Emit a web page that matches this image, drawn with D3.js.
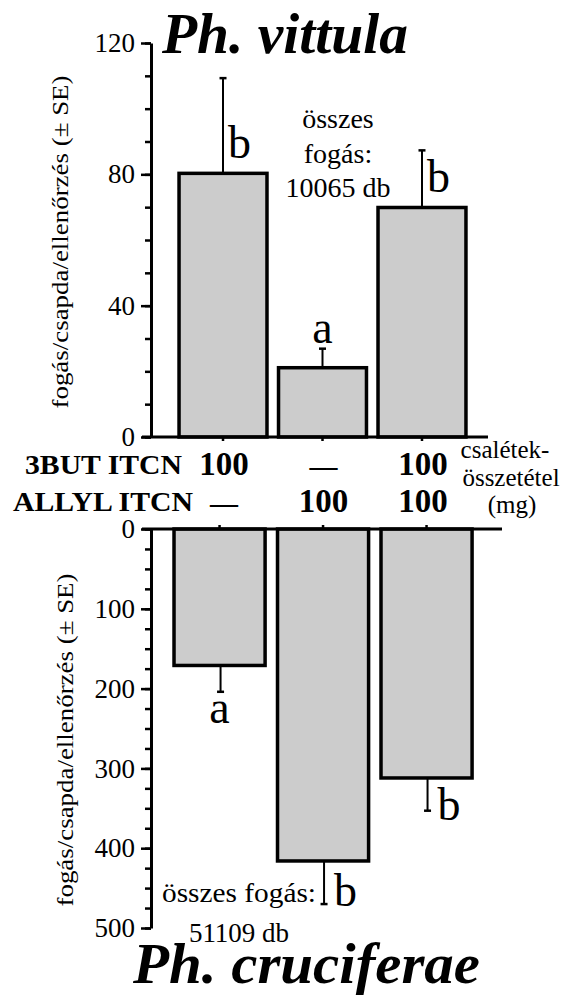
<!DOCTYPE html>
<html>
<head>
<meta charset="utf-8">
<script src="https://cdn.jsdelivr.net/npm/d3@7"></script>
</head>
<body style="margin:0">
<svg width="563" height="1001"></svg>
<script>
// treatments (bait composition, mg)
var treatments = ["3BUT", "ALLYL", "3BUT+ALLYL"];
var row3but = ["100", "—", "100"];
var rowAllyl = ["—", "100", "100"];

// Ph. vittula catches per trap per check
var vittulaMean = [80.3, 21.1, 69.9];
var vittulaSE = [29.0, 5.8, 17.4];
var vittulaLetters = ["b", "a", "b"];

// Ph. cruciferae catches per trap per check
var cruciMean = [171, 416, 312];
var cruciSE = [33, 54, 41];
var cruciLetters = ["a", "b", "b"];

var vittulaTicks = [0, 40, 80, 120];
var cruciTicks = [0, 100, 200, 300, 400, 500];

var FAMILY = "'Liberation Serif', Tinos, 'Times New Roman', Times, 'DejaVu Serif'";

var svg = d3.select("svg").style("font-family", FAMILY);
var axisX = 151;

// Times-like text, set as inline style
function font(sel, size, bold, italic) {
  sel.style("font-family", FAMILY)
     .style("font-size", size + "px");
  if (bold) sel.style("font-weight", "bold");
  if (italic) sel.style("font-style", "italic");
  return sel;
}

// ---------- top panel: Ph. vittula ----------
var xTop = d3.scaleBand().domain(treatments).range([167.5, 477.5]).padding(0.116);
var yTop = d3.scaleLinear().domain([0, 120]).range([437, 43]);

var gTop = svg.append("g");

// minor ticks
gTop.append("g")
    .attr("transform", "translate(" + axisX + ",0)")
    .call(d3.axisLeft(yTop).tickValues(d3.range(0, 121, 10)).tickSize(6).tickSizeOuter(0).tickFormat(""))
    .call(function(g) { g.select(".domain").remove(); })
    .selectAll("line").attr("stroke-width", 2.5);

gTop.append("g")
    .attr("transform", "translate(" + axisX + ",0)")
    .call(d3.axisLeft(yTop).tickValues(vittulaTicks).tickSize(10).tickSizeOuter(0).tickPadding(6))
    .call(function(g) {
      g.attr("font-family", null).attr("font-size", null);
      g.select(".domain").attr("stroke-width", 3);
      g.selectAll("line").attr("stroke-width", 2.5);
      g.selectAll("text").attr("fill", "#000").call(font, 27);
    });

gTop.selectAll("rect.bar")
  .data(vittulaMean)
  .enter().append("rect")
    .attr("class", "bar")
    .attr("x", function(d, i) { return xTop(treatments[i]); })
    .attr("y", function(d) { return yTop(d); })
    .attr("width", xTop.bandwidth())
    .attr("height", function(d) { return yTop(0) - yTop(d); })
    .attr("fill", "#cccccc")
    .attr("stroke", "#000")
    .attr("stroke-width", 3.5);

// error bars (upwards)
gTop.selectAll("line.err")
  .data(vittulaMean)
  .enter().append("line")
    .attr("class", "err")
    .attr("x1", function(d, i) { return xTop(treatments[i]) + xTop.bandwidth() / 2; })
    .attr("x2", function(d, i) { return xTop(treatments[i]) + xTop.bandwidth() / 2; })
    .attr("y1", function(d) { return yTop(d); })
    .attr("y2", function(d, i) { return yTop(d + vittulaSE[i]); })
    .attr("stroke", "#000").attr("stroke-width", 2);

gTop.selectAll("line.cap")
  .data(vittulaMean)
  .enter().append("line")
    .attr("class", "cap")
    .attr("x1", function(d, i) { return xTop(treatments[i]) + xTop.bandwidth() / 2 - 3.5; })
    .attr("x2", function(d, i) { return xTop(treatments[i]) + xTop.bandwidth() / 2 + 3.5; })
    .attr("y1", function(d, i) { return yTop(d + vittulaSE[i]); })
    .attr("y2", function(d, i) { return yTop(d + vittulaSE[i]); })
    .attr("stroke", "#000").attr("stroke-width", 2.5);

// x axis line with small ticks under the bars
gTop.append("line")
    .attr("x1", 142).attr("x2", 488)
    .attr("y1", yTop(0)).attr("y2", yTop(0))
    .attr("stroke", "#000").attr("stroke-width", 3);
gTop.append("g")
    .attr("transform", "translate(0," + yTop(0) + ")")
    .call(d3.axisBottom(xTop).tickSize(4).tickSizeOuter(0).tickFormat(""))
    .call(function(g) { g.select(".domain").remove(); })
    .selectAll("line").attr("stroke-width", 2.5);

// significance letters
gTop.selectAll("text.letter")
  .data(vittulaLetters)
  .enter().append("text")
    .attr("class", "letter")
    .attr("text-anchor", function(d, i) { return i == 1 ? "middle" : "start"; })
    .attr("x", function(d, i) {
      var cx = xTop(treatments[i]) + xTop.bandwidth() / 2;
      return i == 1 ? cx : cx + 5;
    })
    .attr("y", function(d, i) {
      if (i == 1) return yTop(vittulaMean[i] + vittulaSE[i]) - 6;
      return yTop(vittulaMean[i]) - 15;
    })
    .text(function(d) { return d; })
    .call(font, 46);

gTop.append("text")
    .attr("x", 338).attr("y", 128)
    .attr("text-anchor", "middle")
    .call(font, 28)
    .selectAll("tspan")
    .data(["összes", "fogás:", "10065 db"])
    .enter().append("tspan")
      .attr("x", 338)
      .attr("dy", function(d, i) { return i == 0 ? 0 : 34.5; })
      .text(function(d) { return d; });

gTop.append("text")
    .attr("x", 162).attr("y", 53)
    .attr("textLength", 246).attr("lengthAdjust", "spacingAndGlyphs")
    .text("Ph. vittula")
    .call(font, 56, true, true);

gTop.append("text")
    .attr("transform", "translate(68,242) rotate(-90)")
    .attr("text-anchor", "middle")
    .attr("textLength", 333).attr("lengthAdjust", "spacingAndGlyphs")
    .text("fogás/csapda/ellenőrzés (± SE)")
    .call(font, 24);

// ---------- bait composition rows ----------
var gMid = svg.append("g");

gMid.append("text").attr("x", 25).attr("y", 474)
    .attr("textLength", 157).attr("lengthAdjust", "spacingAndGlyphs").text("3BUT ITCN").call(font, 28, true);
gMid.append("text").attr("x", 13).attr("y", 511)
    .attr("textLength", 180).attr("lengthAdjust", "spacingAndGlyphs").text("ALLYL ITCN").call(font, 27, true);

gMid.selectAll("text.r1")
  .data(row3but)
  .enter().append("text")
    .attr("class", "r1")
    .attr("text-anchor", "middle")
    .attr("x", function(d, i) { return xTop(treatments[i]) + xTop.bandwidth() / 2 + 1; })
    .attr("y", 475)
    .text(function(d) { return d; })
    .each(function(d) { font(d3.select(this), d == "—" ? 28 : 33, true); });

gMid.selectAll("text.r2")
  .data(rowAllyl)
  .enter().append("text")
    .attr("class", "r2")
    .attr("text-anchor", "middle")
    .attr("x", function(d, i) { return xTop(treatments[i]) + xTop.bandwidth() / 2 + 1; })
    .attr("y", 512)
    .text(function(d) { return d; })
    .each(function(d) { font(d3.select(this), d == "—" ? 28 : 33, true); });

svg.append("text")
    .attr("text-anchor", "middle")
    .call(font, 25)
    .selectAll("tspan")
    .data(["csalétek-", "összetétel", "(mg)"])
    .enter().append("tspan")
      .attr("x", function(d, i) { return i == 0 ? 505 : i == 1 ? 511 : 512; })
      .attr("y", function(d, i) { return 458 + i * 27.5; })
      .text(function(d) { return d; });

// ---------- bottom panel: Ph. cruciferae ----------
var xBot = d3.scaleBand().domain(treatments).range([161.6, 484.5]).padding(0.12);
var yBot = d3.scaleLinear().domain([0, 500]).range([529, 928]);

var gBot = svg.append("g");

gBot.append("g")
    .attr("transform", "translate(" + axisX + ",0)")
    .call(d3.axisLeft(yBot).tickValues(d3.range(0, 501, 25)).tickSize(6).tickSizeOuter(0).tickFormat(""))
    .call(function(g) { g.select(".domain").remove(); })
    .selectAll("line").attr("stroke-width", 2.5);

gBot.append("g")
    .attr("transform", "translate(" + axisX + ",0)")
    .call(d3.axisLeft(yBot).tickValues(cruciTicks).tickSize(10).tickSizeOuter(0).tickPadding(6))
    .call(function(g) {
      g.attr("font-family", null).attr("font-size", null);
      g.select(".domain").attr("stroke-width", 3);
      g.selectAll("line").attr("stroke-width", 2.5);
      g.selectAll("text").attr("fill", "#000").call(font, 27);
    });

gBot.selectAll("rect.bar")
  .data(cruciMean)
  .enter().append("rect")
    .attr("class", "bar")
    .attr("x", function(d, i) { return xBot(treatments[i]); })
    .attr("y", yBot(0))
    .attr("width", xBot.bandwidth())
    .attr("height", function(d) { return yBot(d) - yBot(0); })
    .attr("fill", "#cccccc")
    .attr("stroke", "#000")
    .attr("stroke-width", 3.5);

// error bars (downwards)
gBot.selectAll("line.err")
  .data(cruciMean)
  .enter().append("line")
    .attr("class", "err")
    .attr("x1", function(d, i) { return xBot(treatments[i]) + xBot.bandwidth() / 2 + 1; })
    .attr("x2", function(d, i) { return xBot(treatments[i]) + xBot.bandwidth() / 2 + 1; })
    .attr("y1", function(d) { return yBot(d); })
    .attr("y2", function(d, i) { return yBot(d + cruciSE[i]); })
    .attr("stroke", "#000").attr("stroke-width", 2);

gBot.selectAll("line.cap")
  .data(cruciMean)
  .enter().append("line")
    .attr("class", "cap")
    .attr("x1", function(d, i) { return xBot(treatments[i]) + xBot.bandwidth() / 2 + 1 - 3.5; })
    .attr("x2", function(d, i) { return xBot(treatments[i]) + xBot.bandwidth() / 2 + 1 + 3.5; })
    .attr("y1", function(d, i) { return yBot(d + cruciSE[i]); })
    .attr("y2", function(d, i) { return yBot(d + cruciSE[i]); })
    .attr("stroke", "#000").attr("stroke-width", 2.5);

gBot.append("line")
    .attr("x1", 142).attr("x2", 502)
    .attr("y1", yBot(0)).attr("y2", yBot(0))
    .attr("stroke", "#000").attr("stroke-width", 3);
gBot.append("g")
    .attr("transform", "translate(0," + yBot(0) + ")")
    .call(d3.axisTop(xBot).tickSize(4).tickSizeOuter(0).tickFormat(""))
    .call(function(g) { g.select(".domain").remove(); })
    .selectAll("line").attr("stroke-width", 2.5);

gBot.selectAll("text.letter")
  .data(cruciLetters)
  .enter().append("text")
    .attr("class", "letter")
    .attr("text-anchor", function(d, i) { return i == 0 ? "middle" : "start"; })
    .attr("x", function(d, i) {
      var cx = xBot(treatments[i]) + xBot.bandwidth() / 2;
      return i == 0 ? cx : cx + 11;
    })
    .attr("y", function(d, i) {
      var end = yBot(cruciMean[i] + cruciSE[i]);
      if (i == 0) return end + 31;
      return i == 1 ? end + 2 : end + 9;
    })
    .text(function(d) { return d; })
    .call(font, 46);

gBot.append("text")
    .attr("x", 162).attr("y", 902)
    .attr("textLength", 154).attr("lengthAdjust", "spacingAndGlyphs")
    .text("összes fogás:")
    .call(font, 27);
gBot.append("text")
    .attr("x", 239).attr("y", 942)
    .attr("text-anchor", "middle")
    .text("51109 db")
    .call(font, 27);

gBot.append("text")
    .attr("x", 133).attr("y", 983)
    .attr("textLength", 347).attr("lengthAdjust", "spacingAndGlyphs")
    .text("Ph. cruciferae")
    .call(font, 56, true, true);

gBot.append("text")
    .attr("transform", "translate(73,740) rotate(-90)")
    .attr("text-anchor", "middle")
    .attr("textLength", 333).attr("lengthAdjust", "spacingAndGlyphs")
    .text("fogás/csapda/ellenőrzés (± SE)")
    .call(font, 24);

// force layout so the serif face is resolved before the picture is taken
svg.selectAll("text").each(function() { this.getComputedTextLength(); });
</script>
</body>
</html>
